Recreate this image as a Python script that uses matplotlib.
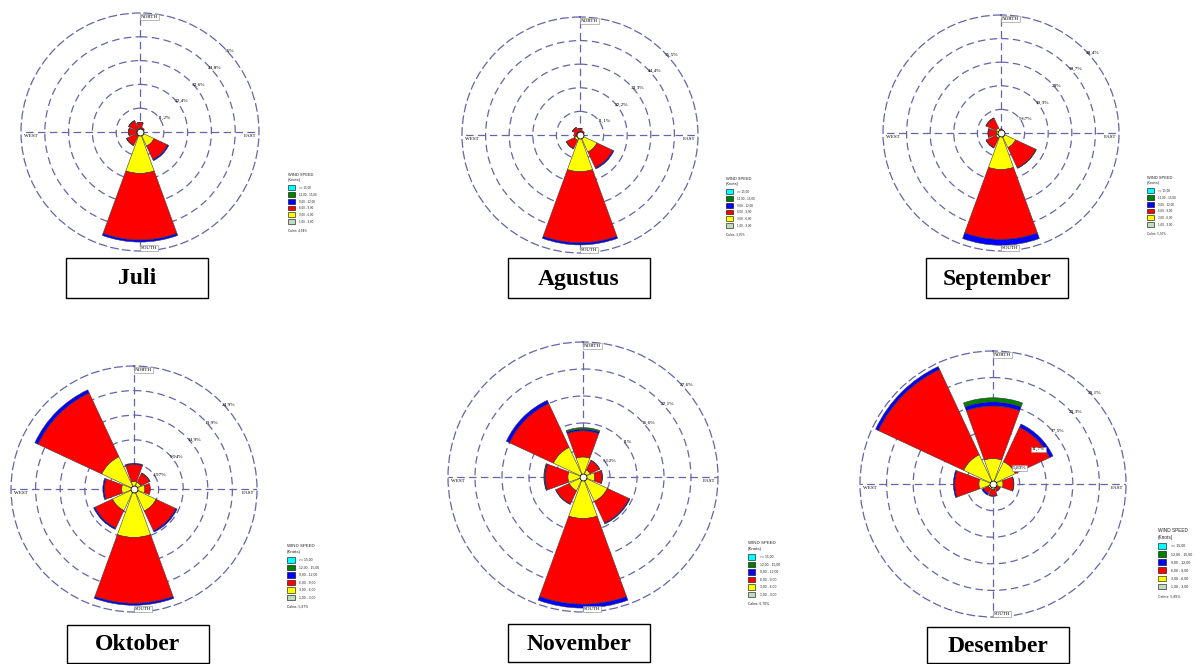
import numpy as np
import matplotlib.pyplot as plt
from matplotlib.patches import Rectangle

W, H = 1198, 664

# sector bearings: N, NE, E, SE, S, SW, W, NW
directions = [0, 45, 90, 135, 180, 225, 270, 315]

# legend entries, top to bottom
legend_labels = ['>= 15,00', '12,00 - 15,00', '9,00 - 12,00',
                 '6,00 - 9,00', '3,00 - 6,00', '1,00 - 3,00']
legend_colors = ['#00ffff', '#008000', '#0000ff', '#ff0000', '#ffff00', '#c0dcc0']

# frequency (%) per speed class and direction
juli_1_3 = [0.3, 0.3, 0.3, 0.3, 0.3, 0.3, 0.3, 0.3]
juli_3_6 = [1.5, 1.0, 0.6, 7.0, 19.2, 1.8, 1.2, 1.5]
juli_6_9 = [2.6, 1.0, 0.4, 7.0, 31.3, 4.8, 3.8, 4.0]
juli_9_12 = [0.1, 0.0, 0.0, 0.6, 1.0, 0.2, 0.1, 0.2]

agustus_1_3 = [0.3, 0.3, 0.3, 0.3, 0.3, 0.3, 0.3, 0.3]
agustus_3_6 = [1.0, 0.8, 0.5, 8.5, 17.0, 2.5, 1.0, 1.2]
agustus_6_9 = [1.8, 1.2, 0.4, 8.2, 33.4, 4.3, 1.5, 2.4]
agustus_9_12 = [0.1, 0.0, 0.0, 0.6, 1.0, 0.1, 0.0, 0.1]

september_1_3 = [0.3, 0.3, 0.3, 0.3, 0.3, 0.3, 0.3, 0.3]
september_3_6 = [0.8, 0.5, 0.4, 6.3, 14.7, 2.0, 1.5, 2.0]
september_6_9 = [0.6, 0.3, 0.2, 9.2, 28.6, 4.4, 3.4, 4.4]
september_9_12 = [0.0, 0.0, 0.0, 0.2, 2.4, 0.1, 0.2, 0.2]

oktober_1_3 = [0.3, 0.3, 0.3, 0.3, 0.3, 0.3, 0.3, 0.3]
oktober_3_6 = [1.2, 1.2, 1.9, 4.6, 9.5, 4.5, 2.2, 6.9]
oktober_6_9 = [3.5, 2.0, 1.1, 4.4, 13.3, 3.9, 3.5, 14.2]
oktober_9_12 = [0.2, 0.1, 0.0, 0.3, 0.4, 0.3, 0.3, 0.7]

november_1_3 = [0.3, 0.3, 0.3, 0.3, 0.3, 0.3, 0.3, 0.3]
november_3_6 = [3.8, 1.3, 2.1, 5.2, 8.2, 2.8, 2.8, 6.4]
november_6_9 = [5.35, 2.1, 1.5, 4.9, 17.5, 3.0, 4.6, 9.9]
november_9_12 = [0.35, 0.1, 0.1, 0.2, 0.8, 0.1, 0.2, 0.7]
november_12_15 = [0.3, 0.0, 0.0, 0.0, 0.0, 0.0, 0.1, 0.0]

desember_1_3 = [0.3, 0.3, 0.3, 0.3, 0.3, 0.3, 0.3, 0.3]
desember_3_6 = [5.3, 5.1, 1.9, 0.6, 0.9, 0.8, 2.8, 6.8]
desember_6_9 = [11.5, 8.3, 2.3, 0.8, 1.4, 1.2, 5.3, 20.6]
desember_9_12 = [0.9, 0.8, 0.1, 0.1, 0.1, 0.4, 0.3, 0.7]
desember_12_15 = [0.9, 0.0, 0.0, 0.0, 0.0, 0.0, 0.0, 0.0]

# ring spacing and ring labels
juli_rings = ['11,2%', '22,4%', '33,6%', '44,8%', '56%']
agustus_rings = ['11,1%', '22,2%', '33,3%', '44,4%', '55,5%']
september_rings = ['9,67%', '19,3%', '29%', '38,7%', '48,4%']
oktober_rings = ['4,97%', '9,94%', '14,9%', '19,9%', '24,9%']
november_rings = ['5,52%', '11%', '16,6%', '22,1%', '27,6%']
desember_rings = ['5,83%', '11,7%', '17,5%', '23,3%', '29,1%']
ring_steps = [11.2, 11.1, 9.67, 4.97, 5.52, 5.83]

months = ['Juli', 'Agustus', 'September', 'Oktober', 'November', 'Desember']
calms = ['4,94%', '3,35%', '5,56%', '5,97%', '6,70%', '5,89%']

grid_color = '#6464aa'
dash = (0, (6, 3.5))


def px(x, y):
    return x / W, 1 - y / H


def draw_legend(x, y, s, calm):
    fs = s * 0.42
    small = s * 0.32
    fig.text(*px(x, y), 'WIND SPEED', fontsize=fs, ha='left', va='center',
             family='Liberation Sans', color='#222222')
    fig.text(*px(x, y + 0.8 * s), '(Knots)', fontsize=fs, ha='left', va='center',
             family='Liberation Sans', color='#222222')
    for i, (lab, col) in enumerate(zip(legend_labels, legend_colors)):
        top = y + 1.5 * s + i * s
        x0, y0 = px(x, top + 0.7 * s)
        fig.patches.append(Rectangle((x0, y0), 1.0 * s / W, 0.7 * s / H,
                                     transform=fig.transFigure, fc=col,
                                     ec='black', lw=0.4))
        fig.text(*px(x + 1.6 * s, top + 0.35 * s), lab, fontsize=small,
                 ha='left', va='center', family='Liberation Sans', color='#222222')
    fig.text(*px(x, y + 8.1 * s), 'Calms: ' + calm, fontsize=small,
             ha='left', va='center', family='Liberation Sans', color='#222222')


def draw_title(name, box):
    x0, y0, x1, y1 = box
    fig.patches.append(Rectangle(px(x0, y1), (x1 - x0) / W, (y1 - y0) / H,
                                 transform=fig.transFigure, fc='white',
                                 ec='black', lw=1.0))
    fig.text(*px((x0 + x1) / 2, (y0 + y1) / 2 + 1), name, fontsize=17,
             fontweight='bold', family='Liberation Serif',
             ha='center', va='center')


def draw_rose(cx, cy, R, step, rings, classes):
    ax = fig.add_axes([(cx - R) / W, 1 - (cy + R) / H, 2 * R / W, 2 * R / H],
                      projection='polar')
    ax.set_theta_zero_location('N')
    ax.set_theta_direction(-1)
    ax.set_ylim(0, 5 * step)
    ax.patch.set_alpha(0)

    theta = np.deg2rad(directions)
    bottom = np.zeros(len(directions))
    inner_first = legend_colors[::-1]
    for vals, col in zip(classes, inner_first):
        vals = np.array(vals, dtype=float)
        keep = vals > 0
        ax.bar(theta[keep], vals[keep], width=np.deg2rad(40), bottom=bottom[keep],
               color=col, edgecolor='#3a3a3a', linewidth=0.4, zorder=3)
        bottom += vals

    ax.set_xticks(np.deg2rad([0, 90, 180, 270]))
    ax.set_xticklabels([])
    ax.set_yticks(step * np.arange(1, 5))
    ax.set_yticklabels([])
    ax.tick_params(length=0)
    ax.grid(True, color=grid_color, linestyle=dash, linewidth=0.9)
    ax.spines['polar'].set_color(grid_color)
    ax.spines['polar'].set_linestyle(dash)
    ax.spines['polar'].set_linewidth(0.9)
    ax.set_axisbelow(True)
    ax.plot(0, 0, 'o', ms=5, mfc='white', mec='black', mew=0.6, zorder=5)

    # ring values along the NE bearing, boxed where the NE sector covers them
    ne_total = bottom[1]
    c45 = np.cos(np.pi / 4)
    for k, lab in enumerate(rings, start=1):
        r = R * k / 5
        box = None
        if ne_total > step * k:
            box = dict(boxstyle='square,pad=0.15', fc='white', ec='#888888', lw=0.4)
        fig.text(*px(cx + r * c45 + 1, cy - r * c45 + 1), lab, fontsize=3.8,
                 family='Liberation Serif', ha='left', va='top', bbox=box, zorder=6)

    lab_box = dict(boxstyle='square,pad=0.15', fc='white', ec='#888888', lw=0.4)
    fig.text(*px(cx + 1, cy - R + 2), 'NORTH', fontsize=3.6, family='Liberation Serif',
             ha='left', va='top', bbox=lab_box, zorder=6)
    fig.text(*px(cx + 1, cy + R - 1), 'SOUTH', fontsize=3.6, family='Liberation Serif',
             ha='left', va='bottom', bbox=lab_box, zorder=6)
    fig.text(*px(cx - R + 3, cy + 2), 'WEST', fontsize=3.6, family='Liberation Serif',
             ha='left', va='top')
    fig.text(*px(cx + R - 3, cy + 2), 'EAST', fontsize=3.6, family='Liberation Serif',
             ha='right', va='top')


fig = plt.figure(figsize=(W / 100, H / 100), dpi=100)
fig.patch.set_facecolor('white')

all_classes = [
    [juli_1_3, juli_3_6, juli_6_9, juli_9_12],
    [agustus_1_3, agustus_3_6, agustus_6_9, agustus_9_12],
    [september_1_3, september_3_6, september_6_9, september_9_12],
    [oktober_1_3, oktober_3_6, oktober_6_9, oktober_9_12],
    [november_1_3, november_3_6, november_6_9, november_9_12, november_12_15],
    [desember_1_3, desember_3_6, desember_6_9, desember_9_12, desember_12_15],
]
all_rings = [juli_rings, agustus_rings, september_rings,
             oktober_rings, november_rings, desember_rings]

# panel placement in pixels: centre, radius, legend (x, y, spacing), title box
centres = [(140, 132, 119), (580, 135, 118), (1001, 133, 118),
           (134, 489, 123), (583, 477, 135), (993, 484, 133)]
legends = [(288, 175, 6.8), (726, 179, 6.8), (1147, 178, 6.8),
           (287, 546, 7.5), (748, 543, 7.5), (1158, 531, 8.1)]
boxes = [(66, 258, 208, 298), (508, 258, 650, 298), (926, 258, 1068, 298),
         (67, 625, 209, 663), (508, 624, 650, 662), (927, 627, 1069, 663)]

for i, name in enumerate(months):
    cx, cy, R = centres[i]
    draw_rose(cx, cy, R, ring_steps[i], all_rings[i], all_classes[i])
    draw_legend(*legends[i], calms[i])
    draw_title(name, boxes[i])

fig.savefig('out.png', dpi=100)
